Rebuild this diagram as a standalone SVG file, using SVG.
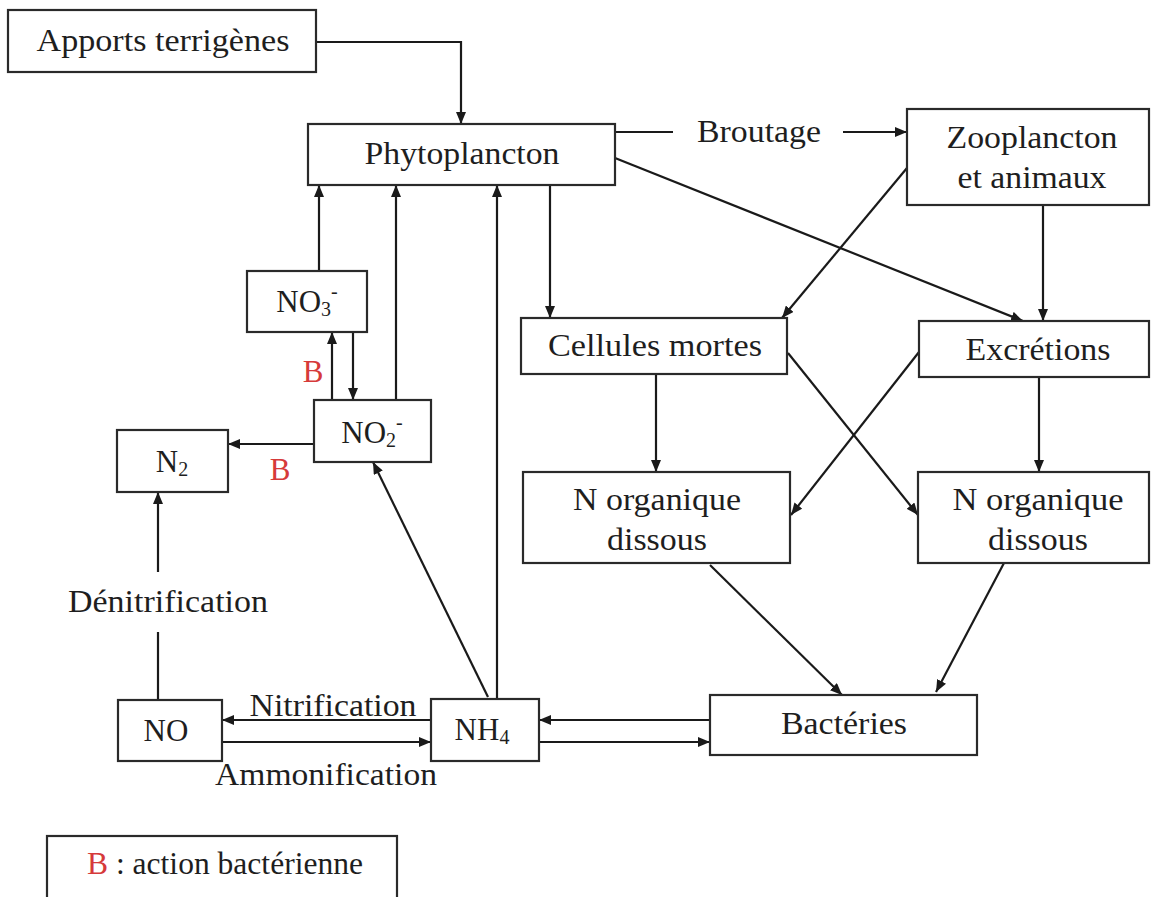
<svg xmlns="http://www.w3.org/2000/svg" width="1152" height="897" viewBox="0 0 1152 897">
<defs>
<marker id="ah" viewBox="0 0 12 10" refX="12" refY="5" markerWidth="12" markerHeight="10" markerUnits="userSpaceOnUse" orient="auto">
<path d="M0,0 L12,5 L0,10 Z" fill="#1a1a1a"/>
</marker>
<style>
.box{fill:#fff;stroke:#2a2a2a;stroke-width:2.2}
.t{font-size:31px;fill:#1e1e1e;text-anchor:middle}
.red{fill:#d63a3a}
.c path{fill:none;stroke:#1a1a1a;stroke-width:2.2}
.a{marker-end:url(#ah)}
</style>
</defs>
<rect width="1152" height="897" fill="#fff"/>

<g class="c" id="connectors">
<path class="a" d="M316 42 H461 V124"/>
<path d="M615 132 H673"/>
<path class="a" d="M843 132 H907"/>
<path class="a" d="M615 158 L1023 321"/>
<path class="a" d="M907 168 L782 318"/>
<path class="a" d="M1043 205 V321"/>
<path class="a" d="M550 185 V318"/>
<path class="a" d="M656 374 V472"/>
<path class="a" d="M788 353 L918 515"/>
<path class="a" d="M919 352 L791 515"/>
<path class="a" d="M1039 377 V472"/>
<path class="a" d="M710 565 L842 695"/>
<path class="a" d="M1004 563 L936 692"/>
<path class="a" d="M710 720 H539"/>
<path class="a" d="M539 742 H710"/>
<path class="a" d="M431 720 H222"/>
<path class="a" d="M222 742 H431"/>
<path d="M158 700 V632"/>
<path class="a" d="M158 572 V492"/>
<path class="a" d="M314 444 H228"/>
<path class="a" d="M332 400 V332"/>
<path class="a" d="M353 332 V400"/>
<path class="a" d="M319 271 V185"/>
<path class="a" d="M396 400 V185"/>
<path class="a" d="M497 699 V185"/>
<path class="a" d="M488 697 L373 462"/>
</g>

<g font-family="Liberation Serif, Times New Roman, serif">
<g id="apports"><rect class="box" x="8" y="10" width="308" height="62"/><text class="t" x="163" y="51" textLength="253" lengthAdjust="spacingAndGlyphs">Apports terrigènes</text></g>
<g id="phyto"><rect class="box" x="308" y="124" width="307" height="61"/><text class="t" x="462" y="164" textLength="195" lengthAdjust="spacingAndGlyphs">Phytoplancton</text></g>
<g id="broutage"><text class="t" x="759" y="142" textLength="124" lengthAdjust="spacingAndGlyphs">Broutage</text></g>
<g id="zoo"><rect class="box" x="907" y="109" width="242" height="96"/><text class="t" x="1032" y="148" textLength="171" lengthAdjust="spacingAndGlyphs">Zooplancton</text><text class="t" x="1032" y="188" textLength="149" lengthAdjust="spacingAndGlyphs">et animaux</text></g>
<g id="cellules"><rect class="box" x="521" y="318" width="266" height="56"/><text class="t" x="655" y="356" textLength="214" lengthAdjust="spacingAndGlyphs">Cellules mortes</text></g>
<g id="excretions"><rect class="box" x="919" y="321" width="230" height="56"/><text class="t" x="1038" y="360" textLength="145" lengthAdjust="spacingAndGlyphs">Excrétions</text></g>
<g id="norg1"><rect class="box" x="523" y="472" width="267" height="91"/><text class="t" x="657" y="510" textLength="168" lengthAdjust="spacingAndGlyphs">N organique</text><text class="t" x="657" y="550" textLength="100" lengthAdjust="spacingAndGlyphs">dissous</text></g>
<g id="norg2"><rect class="box" x="918" y="472" width="231" height="91"/><text class="t" x="1038" y="510" textLength="171" lengthAdjust="spacingAndGlyphs">N organique</text><text class="t" x="1038" y="550" textLength="100" lengthAdjust="spacingAndGlyphs">dissous</text></g>
<g id="bacteries"><rect class="box" x="710" y="695" width="267" height="60"/><text class="t" x="844" y="734" textLength="126" lengthAdjust="spacingAndGlyphs">Bactéries</text></g>
<g id="nh4"><rect class="box" x="431" y="699" width="108" height="62"/><text class="t" x="482" y="740">NH<tspan font-size="20" dy="4">4</tspan></text></g>
<g id="no"><rect class="box" x="118" y="700" width="104" height="61"/><text class="t" x="166" y="741">NO</text></g>
<g id="nitrification"><text class="t" x="333" y="716" textLength="167" lengthAdjust="spacingAndGlyphs">Nitrification</text></g>
<g id="ammonification"><text class="t" x="326" y="785" textLength="222" lengthAdjust="spacingAndGlyphs">Ammonification</text></g>
<g id="denitrification"><text class="t" x="168" y="612" textLength="200" lengthAdjust="spacingAndGlyphs">Dénitrification</text></g>
<g id="n2"><rect class="box" x="117" y="430" width="111" height="62"/><text class="t" x="172" y="472">N<tspan font-size="20" dy="4">2</tspan></text></g>
<g id="no2"><rect class="box" x="314" y="400" width="117" height="62"/><text class="t" x="372" y="443">NO<tspan font-size="20" dy="4">2</tspan><tspan font-size="20" dy="-18">-</tspan></text></g>
<g id="no3"><rect class="box" x="247" y="271" width="120" height="61"/><text class="t" x="307" y="312">NO<tspan font-size="20" dy="4">3</tspan><tspan font-size="20" dy="-18">-</tspan></text></g>
<g id="b-labels"><text class="t red" x="313" y="382">B</text><text class="t red" x="280" y="480">B</text></g>
<g id="legend"><rect class="box" x="47" y="836" width="350" height="64"/><text class="t" x="225" y="874" textLength="276" lengthAdjust="spacingAndGlyphs"><tspan class="red">B</tspan> : action bactérienne</text></g>
</g>
</svg>
